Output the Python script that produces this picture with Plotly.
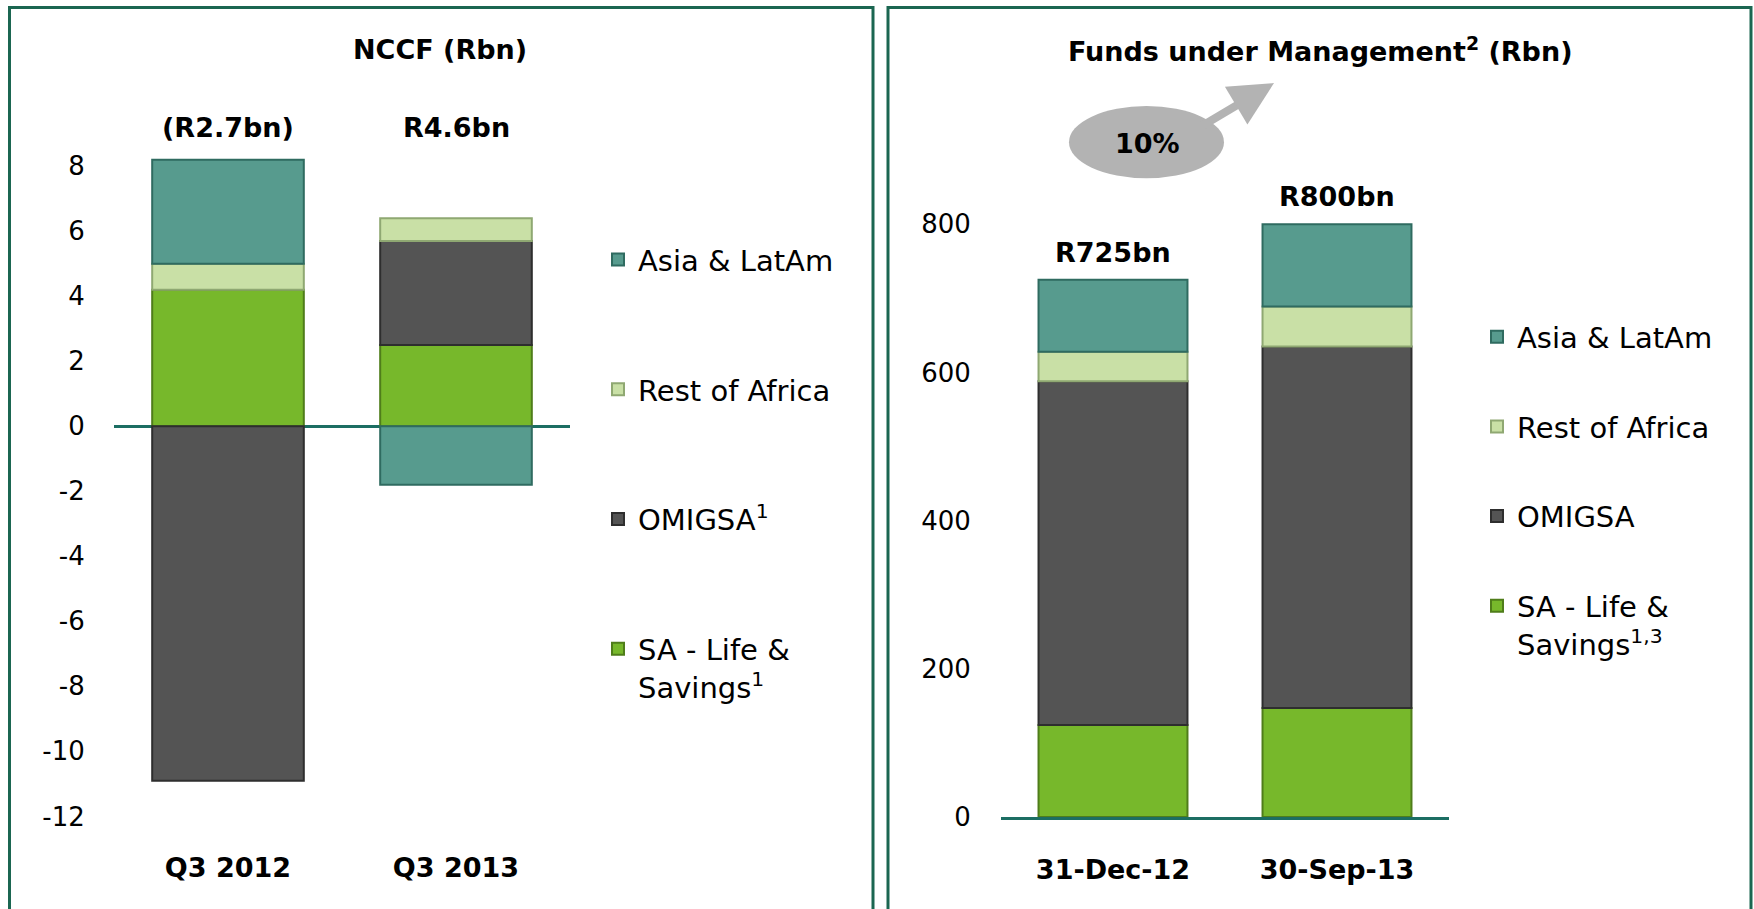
import plotly.graph_objects as go

W, H = 1754, 909
H_EFF = 893  # vertical extent the page actually renders the paper into

# ---- data ----
nccf_cats = ["Q3 2012", "Q3 2013"]
nccf_sa_life = [4.2, 2.5]
nccf_omigsa = [-10.9, 3.2]
nccf_rest_africa = [0.8, 0.7]
nccf_asia_latam = [3.2, -1.8]

fum_cats = ["31-Dec-12", "30-Sep-13"]
fum_sa_life = [124, 147]
fum_omigsa = [464, 488]
fum_rest_africa = [40, 54]
fum_asia_latam = [97, 111]
fum_growth_label = "10%"

nccf_ticks = [8, 6, 4, 2, 0, -2, -4, -6, -8, -10, -12]
fum_ticks = [0, 200, 400, 600, 800]

# ---- styles ----
FONT = "DejaVu Sans"
C_ASIA = "#579b8e"
C_ROA = "#c9e0a6"
C_OMI = "#545454"
C_SA = "#77b82b"
C_LINE = {"Asia & LatAm": "#2f6b60", "Rest of Africa": "#8fa872",
          "OMIGSA": "#2e2e2e", "SA": "#4f7d1a"}
AXIS_TEAL = "#1c6e63"
BORDER = "#1b6651"

def px_x(p):
    return p / W

def px_y(p):
    return 1 - p / H_EFF

fig = go.Figure()

# (name, values, fill, edge, legend rank)
series_left = [
    ("SA - Life &<br>Savings<sup>1</sup>", nccf_sa_life, C_SA, C_LINE["SA"], 4),
    ("OMIGSA<sup>1</sup>", nccf_omigsa, C_OMI, C_LINE["OMIGSA"], 3),
    ("Rest of Africa", nccf_rest_africa, C_ROA, C_LINE["Rest of Africa"], 2),
    ("Asia & LatAm", nccf_asia_latam, C_ASIA, C_LINE["Asia & LatAm"], 1),
]
series_right = [
    ("SA - Life &<br>Savings<sup>1,3</sup>", fum_sa_life, C_SA, C_LINE["SA"], 4),
    ("OMIGSA", fum_omigsa, C_OMI, C_LINE["OMIGSA"], 3),
    ("Rest of Africa", fum_rest_africa, C_ROA, C_LINE["Rest of Africa"], 2),
    ("Asia & LatAm", fum_asia_latam, C_ASIA, C_LINE["Asia & LatAm"], 1),
]

for i, (name, vals, col, lc, rk) in enumerate(series_left):
    fig.add_trace(go.Bar(
        x=nccf_cats, y=vals, name=name, marker=dict(color=col, line=dict(color=lc, width=2)),
        width=0.665, xaxis="x", yaxis="y", legend="legend", legendgroup=f"l{i}",
        legendrank=rk, hoverinfo="skip"))

for i, (name, vals, col, lc, rk) in enumerate(series_right):
    fig.add_trace(go.Bar(
        x=fum_cats, y=vals, name=name, marker=dict(color=col, line=dict(color=lc, width=2)),
        width=0.665, xaxis="x2", yaxis="y2", legend="legend2", legendgroup=f"r{i}",
        legendrank=rk, hoverinfo="skip"))

# totals labels
annotations = []
nccf_totals = [sum(v) for v in zip(nccf_sa_life, nccf_omigsa, nccf_rest_africa, nccf_asia_latam)]
for c, t in zip(nccf_cats, nccf_totals):
    txt = f"(R{abs(t):.1f}bn)" if t < 0 else f"R{t:.1f}bn"
    annotations.append(dict(x=c, y=9.2, xref="x", yref="y", text=f"<b>{txt}</b>",
                            showarrow=False, font=dict(family=FONT, size=27, color="black"),
                            xanchor="center", yanchor="middle"))
fum_totals = [sum(v) for v in zip(fum_sa_life, fum_omigsa, fum_rest_africa, fum_asia_latam)]
for c, t in zip(fum_cats, fum_totals):
    annotations.append(dict(x=c, y=t, xref="x2", yref="y2", text=f"<b>R{t:.0f}bn</b>",
                            showarrow=False, font=dict(family=FONT, size=27, color="black"),
                            xanchor="center", yanchor="bottom", yshift=10))

# titles
annotations.append(dict(x=px_x(440), y=px_y(49), xref="paper", yref="paper",
                        xanchor="center", yanchor="middle",
                        text="<b>NCCF (Rbn)</b>", showarrow=False,
                        font=dict(family=FONT, size=27, color="black")))
annotations.append(dict(x=px_x(1320), y=px_y(49), xref="paper", yref="paper",
                        xanchor="center", yanchor="middle",
                        text="<b>Funds under Management<sup>2</sup> (Rbn)</b>", showarrow=False,
                        font=dict(family=FONT, size=27, color="black")))

# growth arrow
annotations.append(dict(x=px_x(1274), y=px_y(83), ax=-74, ay=44,
                        xref="paper", yref="paper",
                        text="", showarrow=True, arrowhead=2, arrowsize=1.1,
                        arrowwidth=8, arrowcolor="#b3b3b3"))
annotations.append(dict(x=px_x(1147), y=px_y(143), xref="paper", yref="paper",
                        xanchor="center", yanchor="middle",
                        text=f"<b>{fum_growth_label}</b>", showarrow=False,
                        font=dict(family=FONT, size=27, color="black")))

shapes = [
    dict(type="rect", xref="paper", yref="paper", x0=px_x(9.5), x1=px_x(873),
         y0=px_y(930), y1=px_y(7.5), line=dict(color=BORDER, width=3), layer="below"),
    dict(type="rect", xref="paper", yref="paper", x0=px_x(888), x1=px_x(1751),
         y0=px_y(930), y1=px_y(7.5), line=dict(color=BORDER, width=3), layer="below"),
    dict(type="circle", xref="paper", yref="paper", x0=px_x(1069), x1=px_x(1224),
         y0=px_y(178), y1=px_y(106), fillcolor="#b3b3b3", line=dict(width=0), layer="below"),
]

tickfont = dict(family=FONT, size=26, color="black")
xtickfont = dict(family=FONT, size=27, color="black")

fig.update_layout(
    width=W, height=H, autosize=False, margin=dict(l=0, r=0, t=0, b=0),
    paper_bgcolor="white", plot_bgcolor="rgba(0,0,0,0)",
    barmode="relative", bargap=0.335,
    font=dict(family=FONT, color="black"),
    xaxis=dict(domain=[px_x(114), px_x(570)], range=[-0.5, 1.5], type="category",
               tickvals=nccf_cats, ticktext=[f"<b>{c}</b>" for c in nccf_cats],
               tickfont=xtickfont, ticks="outside", ticklen=27, tickcolor="rgba(0,0,0,0)",
               showgrid=False, showline=False, zeroline=False, fixedrange=True),
    yaxis=dict(domain=[px_y(815.5), px_y(101)], range=[-12, 10], tickvals=nccf_ticks,
               ticktext=[str(v) for v in nccf_ticks],
               tickfont=tickfont, ticks="outside", ticklen=23, tickcolor="rgba(0,0,0,0)",
               showgrid=False, showline=False, zeroline=True, zerolinecolor=AXIS_TEAL,
               zerolinewidth=2.5, layer="above traces", fixedrange=True),
    xaxis2=dict(domain=[px_x(1001), px_x(1449)], range=[-0.5, 1.5], type="category",
                tickvals=fum_cats, ticktext=[f"<b>{c}</b>" for c in fum_cats],
                tickfont=xtickfont, ticks="outside", ticklen=27, tickcolor="rgba(0,0,0,0)",
                showgrid=False, showline=True, linecolor=AXIS_TEAL, linewidth=2.5,
                zeroline=False, anchor="y2", layer="above traces", fixedrange=True),
    yaxis2=dict(domain=[px_y(816), px_y(150)], range=[0, 900], tickvals=fum_ticks,
                ticktext=[str(v) for v in fum_ticks],
                tickfont=tickfont, ticks="outside", ticklen=24, tickcolor="rgba(0,0,0,0)",
                showgrid=False, showline=False, zeroline=False, anchor="x2", fixedrange=True),
    legend=dict(x=px_x(598), y=px_y(234), xanchor="left", yanchor="top",
                traceorder="grouped", tracegroupgap=89, valign="top",
                font=dict(family=FONT, size=29, color="black"), bgcolor="rgba(0,0,0,0)",
                itemclick=False, itemdoubleclick=False),
    legend2=dict(x=px_x(1477), y=px_y(311), xanchor="left", yanchor="top",
                 traceorder="grouped", tracegroupgap=49, valign="top",
                 font=dict(family=FONT, size=29, color="black"), bgcolor="rgba(0,0,0,0)",
                 itemclick=False, itemdoubleclick=False),
    annotations=annotations, shapes=shapes, showlegend=True,
)

fig.write_html("out.html",
               config={"displayModeBar": False, "responsive": False},
               post_script="document.body.style.margin='0';document.body.style.overflow='hidden';")
